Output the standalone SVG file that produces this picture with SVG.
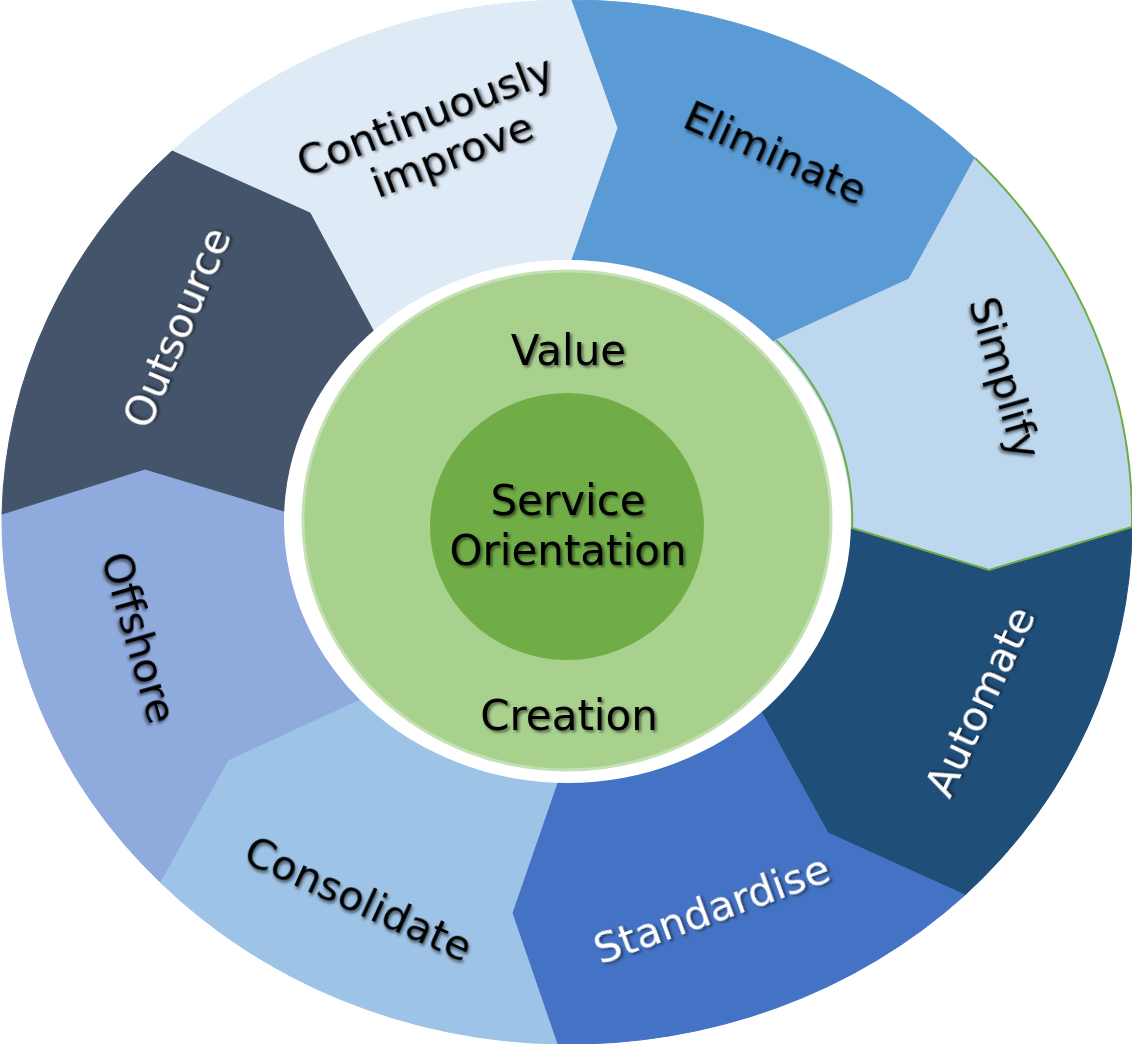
<svg xmlns="http://www.w3.org/2000/svg" width="1132" height="1044" viewBox="0 0 1132 1044">
<defs>
<filter id="sh" x="-20%" y="-20%" width="140%" height="140%">
<feDropShadow dx="2" dy="2" stdDeviation="1.6" flood-color="#000" flood-opacity="0.55"/>
</filter>
<style>
.lbl{font-family:"DejaVu Sans","Verdana",sans-serif;font-size:41.5px;text-anchor:middle;filter:url(#sh)}
.ctr{font-size:42px}
.dk{fill:#000}
.wt{fill:#fff}
.seg{stroke-width:1}
</style>
</defs>
<rect width="1132" height="1044" fill="#fff"/>

<g id="continuously-improve">
<path class="seg" fill="#DEEBF7" stroke="#DEEBF7" d="M172,151 A565,522 0 0 1 572,0 L618,128 L572,260 L567,522 L374,332 L310,213 Z"/>
</g>
<g id="eliminate">
<path class="seg" fill="#5B9BD5" stroke="#5B9BD5" d="M572,0 A565,522 0 0 1 975,158 L909,279 L776,340 L567,522 L572,260 L618,128 Z"/>
</g>
<g id="simplify">
<path class="seg" fill="#BDD7EE" stroke="#BDD7EE" d="M975,158 A565,522 0 0 1 1132,527 L989,570 L852,528 L567,522 L776,340 L909,279 Z"/>
</g>
<g id="automate">
<path class="seg" fill="#1F4E79" stroke="#1F4E79" d="M1132,527 A565,522 0 0 1 965,895 L828,833 L762,713 L567,522 L852,528 L989,570 Z"/>
</g>
<g id="standardise">
<path class="seg" fill="#4472C4" stroke="#4472C4" d="M965,895 A565,522 0 0 1 557,1044 L512,913 L557,783 L567,522 L762,713 L828,833 Z"/>
</g>
<g id="consolidate">
<path class="seg" fill="#9DC3E6" stroke="#9DC3E6" d="M557,1044 A565,522 0 0 1 160,882 L228,760 L358,700 L567,522 L557,783 L512,913 Z"/>
</g>
<g id="offshore">
<path class="seg" fill="#8FAADC" stroke="#8FAADC" d="M160,882 A565,522 0 0 1 2,514 L145,469 L284,511 L567,522 L358,700 L228,760 Z"/>
</g>
<g id="outsource">
<path class="seg" fill="#44546A" stroke="#44546A" d="M2,514 A565,522 0 0 1 172,151 L310,213 L374,332 L567,522 L284,511 L145,469 Z"/>
</g>

<ellipse cx="567.5" cy="521.5" rx="283.5" ry="261.5" fill="#fff"/>
<path fill="none" stroke="#70AD47" stroke-width="2" d="M975,158 A565,522 0 0 1 1132,527 L989,570 L852,528 A283.5,261.5 0 0 0 776,340"/>

<g id="labels">
<text class="lbl dk" transform="translate(430,129) rotate(-21)">Continuously</text>
<text class="lbl dk" transform="translate(457,168) rotate(-21)">improve</text>
<g transform="translate(775,154) rotate(24)"><text class="lbl dk" y="13">Eliminate</text></g>
<g transform="translate(1004,378) rotate(74)"><text class="lbl dk" y="13">Simplify</text></g>
<g transform="translate(981,702) rotate(-65)"><text class="lbl wt" y="13">Automate</text></g>
<g transform="translate(712,910) rotate(-20)"><text class="lbl wt" y="13">Standardise</text></g>
<g transform="translate(358,900) rotate(24.5)"><text class="lbl dk" y="13">Consolidate</text></g>
<g transform="translate(138,638) rotate(74)"><text class="lbl dk" y="13">Offshore</text></g>
<g transform="translate(178,328) rotate(-67)"><text class="lbl wt" y="13">Outsource</text></g>
</g>

<g id="value-creation">
<ellipse cx="567" cy="520.5" rx="264" ry="249.5" fill="#A9D18E" stroke="#C5E0B4" stroke-width="3"/>
<text class="lbl dk ctr" x="568.5" y="365">Value</text>
<text class="lbl dk ctr" x="569" y="730">Creation</text>
</g>
<g id="service-orientation">
<ellipse cx="567" cy="526.5" rx="137" ry="133.5" fill="#70AD47"/>
<text class="lbl dk ctr" x="568" y="515">Service</text>
<text class="lbl dk ctr" x="568" y="565">Orientation</text>
</g>
</svg>
